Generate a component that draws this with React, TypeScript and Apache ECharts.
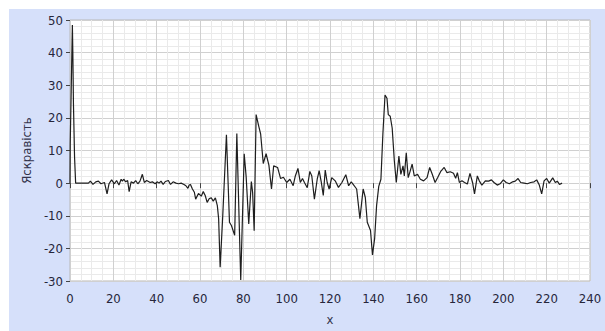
import React, { useEffect, useRef } from "react";
import * as echarts from "echarts";

const xTicks = [0, 20, 40, 60, 80, 100, 120, 140, 160, 180, 200, 220, 240];
const yTicks = [-30, -20, -10, 0, 10, 20, 30, 40, 50];

const xs = [
  0, 0.1, 1.1, 1.3, 1.6, 2.1, 2.6, 8.5, 9.4, 10.6, 11.9, 13.1, 14.3, 15.9, 17.1, 18, 19.2, 20.5, 21.5, 22.6,
  23.6, 24.2, 24.8, 25.7, 26.6, 27.3, 28.2, 29.3, 30.3, 31.3, 32.3, 33.4, 34.3, 35.4, 37, 38, 39.3, 40.2, 41.1, 42,
  43, 44, 45.4, 46.4, 47.6, 48.9, 50.1, 51.3, 52.6, 53.5, 54.4, 55, 55.6, 56.5, 57.4, 58, 59.3, 60.6, 61.5, 62.4,
  63.3, 64.3, 65.2, 66.1, 67.1, 68, 68.6, 69.3, 70.5, 72.2, 73.6, 74.5, 76, 77, 78.8, 80.4, 81.3, 82.5, 83.7, 84.3,
  85, 85.9, 87.1, 88, 89.2, 90.5, 91.8, 93, 94, 95.8, 97.2, 98.5, 100, 101.5, 103, 104, 105.2, 106.3, 107.3, 108.2,
  109.5, 110.7, 111.6, 112.8, 114.1, 115, 116, 116.9, 117.8, 118.7, 119.6, 120.8, 122.4, 123.9, 125.5, 127.3, 128.6, 129.8, 130.7, 132.3,
  133.8, 135.3, 136.3, 137.2, 138.7, 139.6, 140.6, 141.5, 142.5, 143.5, 144.4, 145.4, 146.3, 146.9, 147.8, 148.7, 149.7, 150.6, 151.8, 152.7,
  153.7, 154.3, 155.2, 156.1, 157, 157.9, 158.9, 160.4, 161.7, 163.2, 164.8, 166, 167.2, 168.5, 169.7, 171.2, 172.7, 174, 175.5, 177,
  178, 178.8, 179.7, 180.9, 182.1, 183.4, 184.6, 185.8, 186.7, 188, 188.9, 190.1, 191.7, 193.2, 194.5, 195.7, 197.2, 198.5, 200, 201.3,
  202.8, 204.3, 205.5, 206.8, 208, 209.6, 211.1, 212.6, 214.2, 215.4, 216.6, 217.7, 218.8, 220, 221.2, 222.8, 224, 224.9, 225.9, 227.1,
];

const brightness = [
  0, 12, 48.5, 40.5, 24, 8, 0, 0, 0.6, -0.4, 0.4, 0.6, -0.2, 0.2, -3.3, -0.2, 1, -0.2, 0.8, -0.6,
  1.2, 0.6, 1.2, 0.4, 0.8, -2.6, 0.4, 0, 0.8, -0.2, 0.6, 2.7, 0.2, 0.8, 0.2, 0.4, -0.2, 0.4, 0, 0.6,
  -0.4, 0.5, 0.8, -0.4, 0.4, 0, -0.2, 0, -0.4, -0.8, -1.6, -0.6, -0.4, -1.8, -2.8, -4.9, -3.2, -4, -2.6, -3.8,
  -5.9, -4.7, -4.5, -5.5, -4.5, -6.9, -10.9, -25.8, -10, 14.8, -12, -13, -16, 15.2, -29.7, 9, 2, -12.5, 0.5, -3,
  -14.6, 21, 17.5, 15, 6, 9, 5.5, -1.8, 5.3, 4.8, 1.4, 1.8, 0.2, 1.2, -0.8, 2.2, 4.5, 0.2, 1.4, 0.2,
  -1.4, 3.6, 2.2, -4.9, 1.2, 3.8, 0.2, -3.8, 4, 0.2, -1.8, 1.7, 0.7, -1.3, 0.2, 2.6, -0.8, 0.4, -0.4, -1.8,
  -10.9, -1.8, -4.4, -12, -14.5, -22, -17, -6.9, -1, 1.2, 15, 27, 26, 21, 20.5, 16.9, 6.8, 0.2, 8.3, 2.7,
  5.3, 2.2, 9.3, 1.7, 3.7, 5.8, 2.2, 2.7, 1.2, 0.7, 1.7, 4.8, 2.7, 0.2, 1.7, 3.7, 4.8, 3.2, 3.5, 3,
  1.5, 3.2, 0.2, 0.7, 0.2, -0.3, 3, 0.2, -3.3, 2.2, 0.7, -0.6, 0.7, 0.6, 1, 0.2, -0.6, -0.2, 1, 0.2,
  -0.2, 0.4, 0.6, 1.4, 0.2, 0, -0.2, 0.2, 0.4, 1, -0.6, -3.3, 0.7, 1.4, 0, 1.6, 0.2, 0.6, -0.4, 0,
];

const FONT = "'Liberation Sans Narrow', 'DejaVu Sans Condensed', 'Liberation Sans', sans-serif";

export default function App() {
  const ref = useRef<HTMLDivElement>(null);
  useEffect(() => {
    if (!ref.current) return;
    const chart = echarts.init(ref.current, undefined, { renderer: "svg" });
    const data = xs.map((x, i) => [x, brightness[i]]);
    chart.setOption({
      animation: false,
      backgroundColor: "#d6e0fa",
      grid: {
        left: 61,
        top: 11,
        width: 520,
        height: 264,
        show: true,
        backgroundColor: "#ffffff",
        borderColor: "#b8b8b8",
        borderWidth: 1,
      },
      xAxis: {
        type: "value",
        min: xTicks[0],
        max: xTicks[xTicks.length - 1],
        interval: 20,
        name: "x",
        nameLocation: "middle",
        nameGap: 32,
        nameTextStyle: { fontFamily: FONT, fontSize: 13, color: "#34344c" },
        axisLine: { show: false },
        axisTick: { show: true, length: 5, lineStyle: { color: "#444" } },
        axisLabel: { margin: 11, fontFamily: FONT, fontSize: 13, color: "#26263a" },
        splitLine: { show: true, lineStyle: { color: "#d0d0d0", width: 1 } },
        minorTick: { show: false, splitNumber: 4 },
        minorSplitLine: { show: true, lineStyle: { color: "#eaeaea", width: 1 } },
      },
      yAxis: {
        type: "value",
        min: yTicks[0],
        max: yTicks[yTicks.length - 1],
        interval: 10,
        name: "Яскравість",
        nameLocation: "middle",
        nameGap: 27,
        nameTextStyle: { fontFamily: FONT, fontSize: 13, color: "#34344c" },
        axisLine: { show: false },
        axisTick: { show: true, length: 4, lineStyle: { color: "#444" } },
        axisLabel: { margin: 7, fontFamily: FONT, fontSize: 13, color: "#26263a" },
        splitLine: { show: true, lineStyle: { color: "#d0d0d0", width: 1 } },
        minorTick: { show: false, splitNumber: 5 },
        minorSplitLine: { show: true, lineStyle: { color: "#eaeaea", width: 1 } },
      },
      series: [
        {
          type: "line",
          data,
          showSymbol: false,
          symbol: "none",
          lineStyle: { color: "#1e1e1e", width: 1.2 },
        },
      ],
    });
    return () => chart.dispose();
  }, []);
  return (
    <div style={{ position: "fixed", left: 0, top: 0, width: 605, height: 331, background: "#ffffff", overflow: "hidden" }}>
      <div ref={ref} style={{ position: "absolute", left: 9, top: 9, width: 596, height: 322 }} />
    </div>
  );
}
